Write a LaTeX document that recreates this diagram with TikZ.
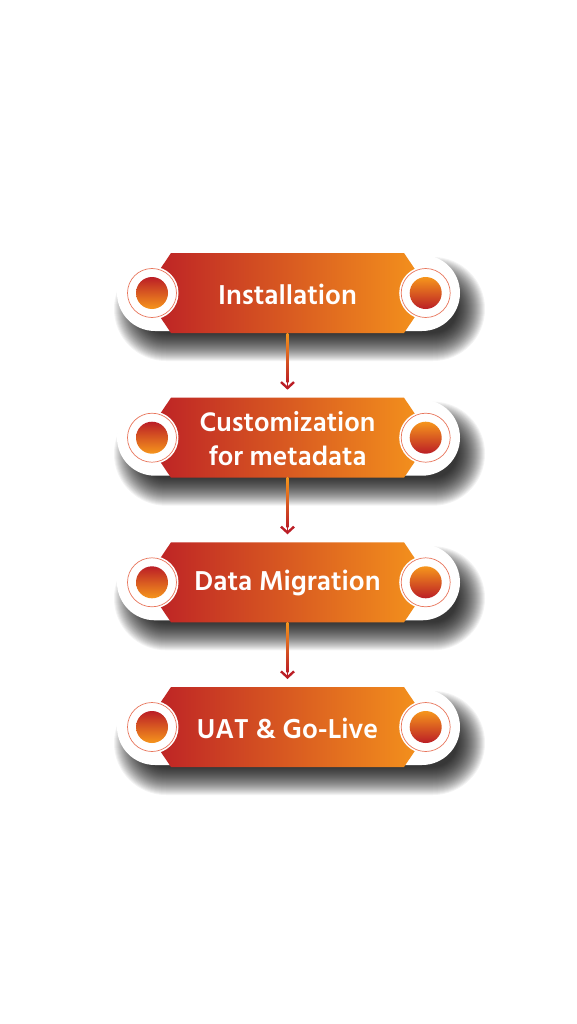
\documentclass[tikz,border=0pt]{standalone}
\usepackage{fontspec}
\setmainfont{Hind Siliguri}
\usetikzlibrary{arrows.meta,shapes.misc,calc}
\definecolor{cred}{RGB}{187,30,38}
\definecolor{corange}{RGB}{246,150,28}
\definecolor{cring}{RGB}{232,118,92}
\tikzset{
  pill/.style={rounded rectangle, fill=white, minimum width=343pt, minimum height=76pt, inner sep=0pt, outer sep=0pt},
  bannerbox/.style={rectangle, minimum width=233pt, minimum height=80pt, inner sep=0pt, outer sep=0pt},
  lbl/.style={text=white, font=\bfseries\fontsize{28}{31}\selectfont, align=center, inner sep=0pt},
  lblsmall/.style={text=white, font=\bfseries\fontsize{27.5}{34.5}\selectfont, align=center, inner sep=0pt},
  ring/.style={circle, draw=cring, line width=0.7pt, fill=white, minimum size=49pt, inner sep=0pt},
  dotl/.style={circle, minimum size=32pt, inner sep=0pt, top color=cred, bottom color=corange},
  dotr/.style={circle, minimum size=32pt, inner sep=0pt, top color=corange, bottom color=cred},
  conn/.style={draw=cred, line width=1.8pt, shorten >=8pt, -{Straight Barb[length=6pt, width=13pt, line width=2.4pt]}},
}
\newcommand\mkcard[4]{%
  \foreach \e in {14,13,...,-14} {
    \pgfmathsetmacro\rr{38+\e}
    \fill[black, opacity=0.048, rounded corners=\rr pt] ({128-(\e)},{#2-22-(\e)}) rectangle ({471+(\e)},{#2+54+(\e)});
  }
  \node[pill] (p#1) at (288.5,#2) {};
  \node[bannerbox] (t#1) at (287.5,#2) {};
  \shade[left color=cred, right color=corange] (t#1.north west) -- (t#1.north east) -- ++(27,40) -- (t#1.south east) -- (t#1.south west) -- ++(-27,-40) -- cycle;
  \fill[white] (152,#2) circle (26.5);
  \fill[white] (425.7,#2) circle (26.5);
  \node[ring] (rl#1) at (152,#2) {};
  \node[ring] (rr#1) at (425.7,#2) {};
  \node[dotl] (cl#1) at (152,#2) {};
  \node[dotr] (cr#1) at (425.7,#2) {};
  \node[#4] (l#1) at (287.5,{#2+1}) {#3};
}
\begin{document}
\begin{tikzpicture}[x=1pt,y=-1pt]
\fill[white] (0,0) rectangle (576,1024);
\useasboundingbox (0,0) rectangle (576,1024);
\mkcard{1}{293}{Installation}{lbl}
\mkcard{2}{437.7}{Customization\\for metadata}{lblsmall}
\mkcard{3}{582.3}{Data Migration}{lbl}
\mkcard{4}{727}{UAT \& Go-Live}{lbl}
\foreach \a/\b in {1/2,2/3,3/4} {
  \draw[conn] (t\a.south) -- (t\b.north);
  \shade[top color=corange, bottom color=cred] ([xshift=-0.9pt]t\a.south) rectangle ([xshift=0.9pt,yshift=15pt]t\b.north);
}
\end{tikzpicture}
\end{document}
